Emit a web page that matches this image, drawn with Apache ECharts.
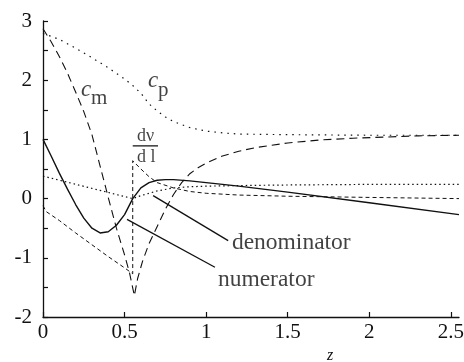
<!DOCTYPE html>
<html>
<head>
<meta charset="utf-8">
<script src="https://cdn.jsdelivr.net/npm/echarts@6/dist/echarts.min.js"></script>
<style>
  html, body { margin: 0; padding: 0; background: #fff; }
  #chart { width: 464px; height: 362px; }
</style>
</head>
<body>
<div id="chart"></div>
<script>
// values, pairs of [z, value]
const cpData = [[0, 2.79], [0.1, 2.69], [0.2, 2.54], [0.3, 2.38], [0.4, 2.21], [0.5, 2.02], [0.55, 1.91], [0.6, 1.78],
  [0.65, 1.6], [0.7, 1.48], [0.75, 1.38], [0.8, 1.3], [0.9, 1.2], [1.0, 1.14], [1.1, 1.11], [1.2, 1.09], [1.5, 1.08],
  [2.0, 1.07], [2.55, 1.07]]
const cmData = [[0, 2.87], [0.05, 2.65], [0.1, 2.4], [0.15, 2.12], [0.2, 1.8], [0.25, 1.47], [0.3, 1.08], [0.35, 0.55],
  [0.4, 0.02], [0.45, -0.5], [0.5, -0.95], [0.53, -1.25], [0.56, -1.64], [0.58, -1.35], [0.61, -1.06], [0.65, -0.76],
  [0.7, -0.47], [0.75, -0.18], [0.8, 0.07], [0.85, 0.27], [0.9, 0.42], [0.95, 0.52], [1.0, 0.6], [1.1, 0.72],
  [1.2, 0.8], [1.3, 0.86], [1.4, 0.9], [1.5, 0.94], [1.7, 0.99], [1.9, 1.02], [2.1, 1.04], [2.3, 1.06], [2.55, 1.07]]
const numeratorData = [[0, 1.0], [0.05, 0.72], [0.1, 0.43], [0.15, 0.16], [0.2, -0.1], [0.25, -0.33], [0.3, -0.5],
  [0.35, -0.58], [0.4, -0.56], [0.45, -0.45], [0.5, -0.27], [0.55, 0], [0.6, 0.18], [0.65, 0.27], [0.7, 0.31],
  [0.75, 0.32], [0.8, 0.32], [0.9, 0.3], [1.0, 0.27], [1.2, 0.21], [1.5, 0.11], [2.0, -0.07], [2.55, -0.27]]
const denominatorData = [[0, 0.38], [0.55, 0], [0.6, 0.05], [0.65, 0.09], [0.7, 0.13], [0.8, 0.18], [0.9, 0.2],
  [1.0, 0.21], [1.2, 0.22], [1.5, 0.23], [2.0, 0.24], [2.55, 0.24]]
const dvdlData = [[0, -0.12], [0.02, -0.22], [0.1, -0.37], [0.2, -0.58], [0.3, -0.78], [0.4, -0.98], [0.5, -1.17],
  [0.55, -1.27], [0.55, 0.64], [0.6, 0.5], [0.65, 0.37], [0.7, 0.27], [0.8, 0.18], [0.9, 0.12], [1.0, 0.09],
  [1.2, 0.06], [1.5, 0.04], [2.0, 0.02], [2.55, 0.0]]

// annotation lines (leaders + fraction bar)
const denominatorLeader = [[0.675, 0.05], [1.135, -0.71]]
const numeratorLeader = [[0.515, -0.35], [1.054, -1.16]]
const fractionBar = [[0.55, 0.89], [0.705, 0.89]]

// annotation texts: [z, value, text, size, italic]
const textNotes = [
  [1.158, -0.75, 'denominator', 23.5, false],
  [1.072, -1.374, 'numerator', 23.5, false],
  [0.233, 1.83, 'c', 23, true],
  [0.294, 1.686, 'm', 21, false],
  [0.643, 1.98, 'c', 23, true],
  [0.705, 1.82, 'p', 21, false],
  [0.576, 1.045, 'dν', 18, false],
  [0.576, 0.69, 'd l', 18, false]
]

const xTicks = [0, 0.5, 1, 1.5, 2, 2.5]
const yTicks = [-2, -1.5, -1, -0.5, 0, 0.5, 1, 1.5, 2, 2.5, 3]
const yLabels = [-2, -1, 0, 1, 2, 3]

const serif = "'Liberation Serif', 'Times New Roman', serif"
const ink = '#111'

const chart = echarts.init(document.getElementById('chart'))

function curve(data, width, type) {
  return {
    type: 'line',
    data: data,
    showSymbol: false,
    symbol: 'none',
    smooth: false,
    silent: true,
    lineStyle: { color: ink, width: width, type: type }
  }
}

const option = {
  animation: false,
  grid: { left: 43, right: 5, top: 21, bottom: 45, containLabel: false, outerBoundsMode: 'none' },
  xAxis: {
    type: 'value',
    min: 0,
    max: 2.55,
    name: 'z',
    nameLocation: 'middle',
    nameGap: 30,
    nameTextStyle: { fontFamily: serif, fontStyle: 'italic', fontSize: 16, color: ink, padding: [0, 0, 0, 158] },
    axisLine: { show: true, onZero: false, lineStyle: { color: ink, width: 1.3 } },
    axisTick: { show: true, inside: true, length: 5, customValues: xTicks, lineStyle: { color: ink, width: 1.2 } },
    axisLabel: { customValues: xTicks, margin: 5, fontFamily: serif, fontSize: 21, color: ink },
    splitLine: { show: false }
  },
  yAxis: {
    type: 'value',
    min: -2,
    max: 3,
    axisLine: { show: true, onZero: false, lineStyle: { color: ink, width: 1.3 } },
    axisTick: { show: true, inside: true, length: 5, customValues: yTicks, lineStyle: { color: ink, width: 1.2 } },
    axisLabel: { customValues: yLabels, margin: 11, fontFamily: serif, fontSize: 21, color: ink },
    splitLine: { show: false }
  },
  series: [
    curve(cpData, 1.2, [1.5, 5]),
    curve(cmData, 1.1, [8, 5]),
    curve(numeratorData, 1.4, 'solid'),
    curve(denominatorData, 1.2, [1.5, 3]),
    curve(dvdlData, 1, [4, 3]),
    curve(denominatorLeader, 1.3, 'solid'),
    curve(numeratorLeader, 1.3, 'solid'),
    curve(fractionBar, 1.2, 'solid'),
    {
      type: 'scatter',
      symbolSize: 0,
      silent: true,
      data: textNotes.map(n => ({
        value: [n[0], n[1]],
        label: {
          show: true,
          position: [0, 0],
          align: 'left',
          verticalAlign: 'middle',
          formatter: n[2],
          fontFamily: serif,
          fontSize: n[3],
          fontStyle: n[4] ? 'italic' : 'normal',
          color: ink
        }
      }))
    }
  ]
}

chart.setOption(option)
</script>
</body>
</html>
